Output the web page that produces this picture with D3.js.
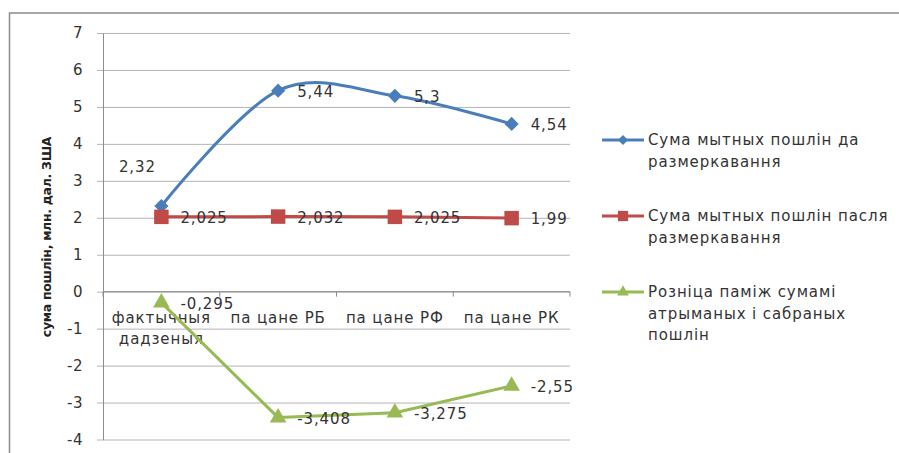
<!DOCTYPE html>
<html>
<head>
<meta charset="utf-8">
<script src="https://cdn.jsdelivr.net/npm/d3@7"></script>
<style>
  body { margin: 0; background: #fff; }
  svg { display: block; font-family: "DejaVu Sans", sans-serif; }
  .tick text { fill: #333; }
</style>
</head>
<body>
<div id="chart"></div>
<script>
const categories = ["фактычныя\nдадзеныя", "па цане РБ", "па цане РФ", "па цане РК"];
const beforeValues = [2.32, 5.44, 5.3, 4.54];
const afterValues = [2.025, 2.032, 2.025, 1.99];
const diffValues = [-0.295, -3.408, -3.275, -2.55];
const seriesNames = [
  "Сума мытных пошлін да\nразмеркавання",
  "Сума мытных пошлін пасля\nразмеркавання",
  "Розніца паміж сумамі\nатрыманых і сабраных\nпошлін"
];
const yTicks = d3.range(-4, 8);

const width = 899, height = 453;
const plotLeft = 103, plotRight = 570, plotTop = 33, plotBottom = 439.5;
const ls = 0.9; // letter spacing, text in the original is a bit wide

const svg = d3.select("#chart").append("svg")
  .attr("width", width).attr("height", height);

// outer frame
svg.append("rect")
  .attr("x", 9.5).attr("y", 13)
  .attr("width", width + 10).attr("height", height + 10)
  .attr("fill", "none").attr("stroke", "#8c8c8c").attr("stroke-width", 1.5);

const x = d3.scaleBand().domain(categories).range([plotLeft, plotRight]).padding(0);
const y = d3.scaleLinear().domain([-4, 7]).range([plotBottom, plotTop]);
const cx = (d, i) => x(categories[i]) + x.bandwidth() / 2;
const fmt = v => String(v).replace(".", ",");

// grid
svg.append("g")
  .attr("transform", `translate(${plotLeft},0)`)
  .call(d3.axisLeft(y).tickValues(yTicks).tickSize(-(plotRight - plotLeft)).tickFormat(""))
  .call(g => g.select(".domain").remove())
  .call(g => g.selectAll(".tick line").attr("stroke", "#b4b4b4"));

// y axis
svg.append("g")
  .attr("transform", `translate(${plotLeft},0)`)
  .call(d3.axisLeft(y).tickValues(yTicks).tickFormat(fmt).tickSize(6).tickSizeOuter(0).tickPadding(14))
  .attr("font-family", null)
  .call(g => g.select(".domain").attr("stroke", "#8c8c8c"))
  .call(g => g.selectAll(".tick line").attr("stroke", "#b4b4b4"))
  .call(g => g.selectAll(".tick text").attr("font-size", 15).attr("letter-spacing", 0.5));

// y title
svg.append("text")
  .attr("transform", `translate(51,237) rotate(-90)`)
  .attr("text-anchor", "middle")
  .attr("font-size", 12.5).attr("font-weight", "bold").attr("fill", "#222")
  .attr("letter-spacing", -0.3)
  .text("сума пошлін, млн. дал. ЗША");

// x axis at zero
const xAxis = svg.append("g").attr("transform", `translate(0,${y(0)})`);
xAxis.append("line").attr("x1", plotLeft).attr("x2", plotRight).attr("stroke", "#8c8c8c");
xAxis.selectAll(".xt").data(categories.map(c => x(c)).concat([plotRight]))
  .join("line").attr("class", "xt")
  .attr("x1", d => d).attr("x2", d => d).attr("y1", 0).attr("y2", 5)
  .attr("stroke", "#8c8c8c");
xAxis.selectAll(".xl").data(categories).join("text").attr("class", "xl")
  .attr("text-anchor", "middle").attr("font-size", 15).attr("letter-spacing", ls)
  .attr("fill", "#333")
  .each(function (d, i) {
    d3.select(this).selectAll("tspan").data(d.split("\n")).join("tspan")
      .attr("x", cx(d, i)).attr("y", (t, j) => 31 + j * 21).text(t => t);
  });

const series = [
  { values: beforeValues, color: "#4a7ebb", shape: d3.symbolSquare, rot: 45, size: 100, curve: d3.curveCardinal.tension(0) },
  { values: afterValues, color: "#be4b48", shape: d3.symbolSquare, rot: 0, size: 210, curve: d3.curveLinear },
  { values: diffValues, color: "#98b954", shape: d3.symbolTriangle, rot: 0, size: 120, curve: d3.curveLinear }
];

series.forEach((s, si) => {
  const g = svg.append("g");
  g.append("path")
    .datum(s.values)
    .attr("fill", "none").attr("stroke", s.color).attr("stroke-width", 3)
    .attr("stroke-linejoin", "round")
    .attr("d", d3.line().x(cx).y(d => y(d)).curve(s.curve));
  g.selectAll("path.m").data(s.values).join("path").attr("class", "m")
    .attr("transform", (d, i) => `translate(${cx(d, i)},${y(d)}) rotate(${s.rot})`)
    .attr("d", d3.symbol().type(s.shape).size(s.size))
    .attr("fill", s.color);
  g.selectAll("text").data(s.values).join("text")
    .attr("font-size", 15).attr("letter-spacing", ls).attr("fill", "#333")
    .attr("dominant-baseline", "central")
    .attr("x", (d, i) => (si === 0 && i === 0) ? cx(d, i) - 24 : cx(d, i) + 19)
    .attr("y", (d, i) => (si === 0 && i === 0) ? y(d) - 39 : y(d) + 1)
    .attr("text-anchor", (d, i) => (si === 0 && i === 0) ? "middle" : "start")
    .text(fmt);
});

// legend
const legend = svg.append("g").attr("transform", "translate(602,140)");
const legendOffsets = [0, 76, 152];
series.forEach((s, si) => {
  const g = legend.append("g").attr("transform", `translate(0,${legendOffsets[si]})`);
  g.append("line").attr("x1", 0).attr("x2", 42).attr("stroke", s.color).attr("stroke-width", 3);
  g.append("path").attr("transform", `translate(21,0) rotate(${s.rot})`)
    .attr("d", d3.symbol().type(s.shape).size(s.size * 0.5)).attr("fill", s.color);
  g.append("text").attr("font-size", 15).attr("letter-spacing", ls).attr("fill", "#333")
    .selectAll("tspan").data(seriesNames[si].split("\n")).join("tspan")
    .attr("x", 46).attr("y", (t, j) => j * 21.5).attr("dy", "0.35em").text(t => t);
});
</script>
</body>
</html>
